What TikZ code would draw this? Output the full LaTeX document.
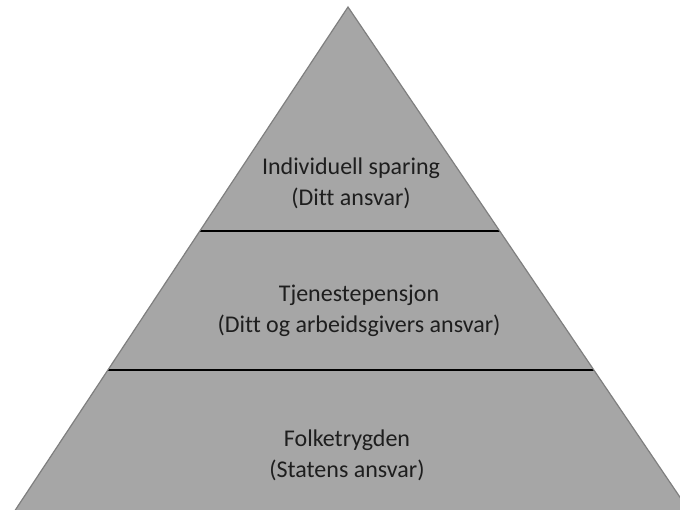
\documentclass[tikz,border=0pt]{standalone}
\usepackage{fontspec}
\usetikzlibrary{calc}
\setmainfont[Ligatures=NoCommon]{Carlito}
\definecolor{pyrfill}{HTML}{A6A6A6}
\definecolor{pyredge}{HTML}{7F7F7F}
\definecolor{pyrtext}{HTML}{1E1E1E}
\begin{document}
\begin{tikzpicture}[x=1pt,y=-1pt,
  tiertext/.style={align=center,text=pyrtext,font=\fontsize{24}{31}\selectfont,inner sep=0pt}]
\useasboundingbox (0,0) rectangle (680,510);
\begin{scope}
\clip (0,0) rectangle (680,510);
\coordinate (apex) at (348,7);
\coordinate (bl) at (14,512);
\coordinate (br) at (690,512);
\fill[pyrfill] (apex) -- (bl) -- (br) -- cycle;
\draw[black,line width=1.5pt] ($(apex)!224/505!(bl)$) -- ($(apex)!224/505!(br)$);
\draw[black,line width=1.5pt] ($(apex)!363/505!(bl)$) -- ($(apex)!363/505!(br)$);
\draw[pyredge,line width=1.2pt,line join=miter] (bl) -- (apex) -- (br);
\end{scope}
\node[tiertext] (tier1) at (351,183) {Individuell sparing\\(Ditt ansvar)};
\node[tiertext] (tier2) at (359,311) {Tjenestepensjon\\(Ditt og arbeidsgivers ansvar)};
\node[tiertext] (tier3) at (347,455) {Folketrygden\\(Statens ansvar)};
\end{tikzpicture}
\end{document}
